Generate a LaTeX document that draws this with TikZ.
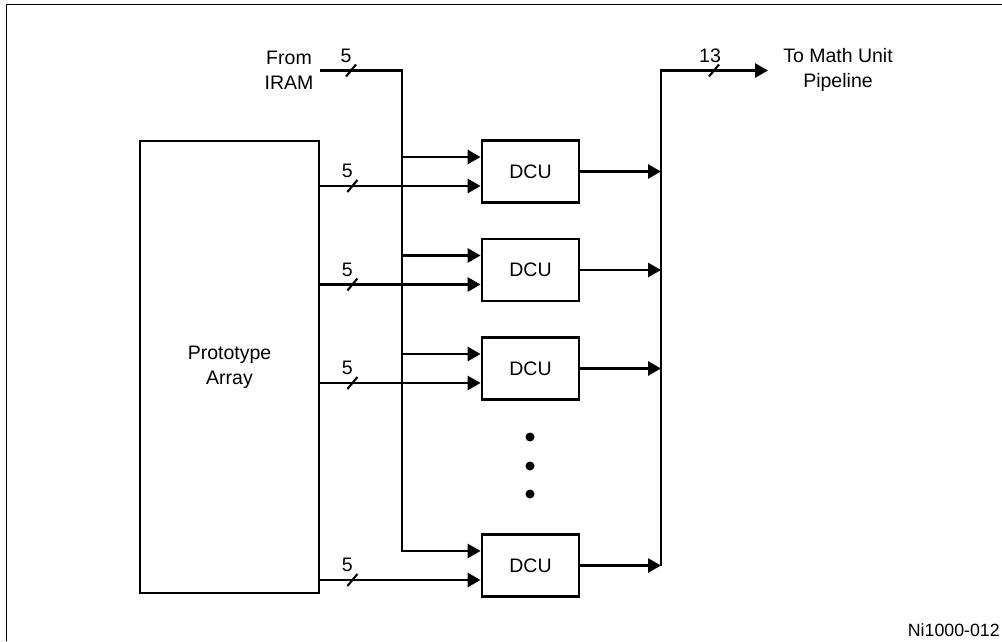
\documentclass[tikz,border=0pt]{standalone}
\usepackage{fontspec}
\setmainfont{Liberation Sans}
\usetikzlibrary{arrows.meta,calc}

\begin{document}
\begin{tikzpicture}[
    box/.style={draw, line width=1.6pt, inner sep=0pt},
    dcu/.style={box, minimum width=1.94cm, minimum height=1.24cm},
    txt/.style={font=\fontsize{11.1}{14.2}\selectfont, align=center},
    arr/.style={-{Triangle[length=0.26cm, width=0.28cm]}, line width=1.6pt},
    busmark/.style={line width=1.2pt},
]
\useasboundingbox (0,0) rectangle (20.04,-12.82);

% Frame
\draw[line width=0.8pt] (0.13,-12.82) -- (0.13,-0.09) -- (20.04,-0.09);

% Prototype array
\node[box, txt, minimum width=3.58cm, minimum height=9.04cm] (proto) at (4.59,-7.34) {Prototype\\Array};

% DCU column
\foreach \n/\y in {1/-3.43, 2/-5.40, 3/-7.37, 4/-11.31} {
  \node[dcu, txt] (d\n) at (10.61,\y) {DCU};
  \coordinate (u\n) at ([yshift=0.29cm]d\n.west);
  \coordinate (l\n) at ([yshift=-0.29cm]d\n.west);
}

% dots
\foreach \y in {-8.74,-9.32,-9.88}
  \fill (10.6,\y) circle (0.09);

% Labels
\node[txt] (iram) at (5.78,-1.41) {From\\IRAM};
\node[txt] (math) at (16.76,-1.39) {To Math Unit\\Pipeline};
\node[txt, font=\fontsize{10.1}{12}\selectfont, anchor=east, inner sep=0pt] (tag) at (20.0,-12.6) {Ni1000-012};

% Bus corners
\coordinate (b1) at (8.04,-1.41);
\coordinate (b2) at (13.22,-1.41);
\coordinate (out) at (15.36,-1.41);

% Edges
\draw[arr] (iram.east |- b1) -- (b1) -- (b1 |- u4) -- (u4);
\foreach \n in {1,2,3}
  \draw[arr] (b1 |- u\n) -- (u\n);
\foreach \n in {1,...,4}
  \draw[arr] (proto.east |- l\n) -- (l\n);
\foreach \n in {1,...,4}
  \draw[arr] (d\n.east) -- (b2 |- d\n.east);
\draw[arr] (b2 |- d4.east) -- (b2) -- (out);

% Bus widths
\foreach \n in {1,...,4}
  \draw[busmark] ($(proto.east |- l\n)+(0.64,0)$) +(-0.1,-0.12) -- +(0.1,0.12) +(-0.1,0.3) node[txt] {5};
\draw[busmark] ($(b1)+(-1.02,0)$) +(-0.1,-0.12) -- +(0.1,0.12) +(-0.1,0.3) node[txt] {5};
\draw[busmark] ($(b2)+(1.06,0)$) +(-0.1,-0.12) -- +(0.1,0.12) +(-0.08,0.3) node[txt] {13};

\end{tikzpicture}
\end{document}
